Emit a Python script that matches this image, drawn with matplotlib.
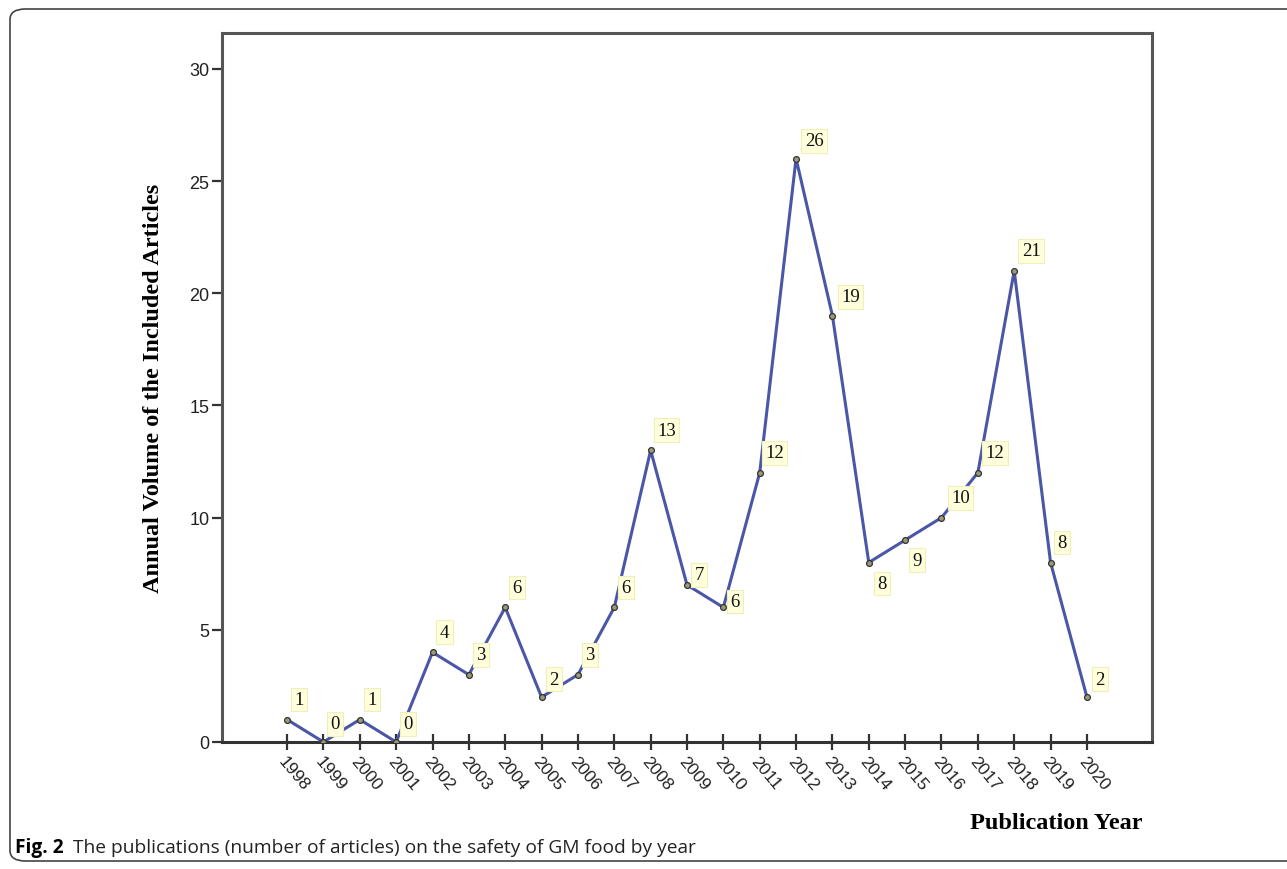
import matplotlib.pyplot as plt
from matplotlib.patches import FancyBboxPatch

years = list(range(1998, 2021))
articles = [1, 0, 1, 0, 4, 3, 6, 2, 3, 6, 13, 7, 6, 12, 26, 19, 8, 9, 10, 12, 21, 8, 2]
y_ticks = [0, 5, 10, 15, 20, 25, 30]

# label offsets in pixels from the point (most sit up and right)
label_offsets = [(12, 20), (12, 18), (12, 20), (12, 18), (12, 20), (12, 20), (12, 20),
                 (12, 18), (12, 20), (12, 20), (16, 20), (12, 10), (12, 6), (15, 20),
                 (18, 18), (18, 19), (13, -21), (12, -20), (19, 20), (17, 20), (17, 20),
                 (11, 20), (13, 18)]

fig = plt.figure(figsize=(12.87, 8.70), dpi=100)

# rounded caption frame, cut at the right edge
frame = FancyBboxPatch((10 / 1287, 8 / 870), 1.2, 852 / 870,
                       boxstyle="round,pad=0,rounding_size=0.012",
                       transform=fig.transFigure, fill=False,
                       edgecolor="#444444", linewidth=1.2, clip_on=False)
fig.patches.append(frame)

ax = fig.add_axes([222 / 1287, 1 - 743 / 870, 930 / 1287, 709 / 870])
ax.plot(years, articles, color="#4a57a6", linewidth=2.2, marker="o",
        markersize=4.2, markerfacecolor="#9a9a7a", markeredgecolor="#333333",
        markeredgewidth=0.9, zorder=3)

for yr, val, off in zip(years, articles, label_offsets):
    ax.annotate(str(val), (yr, val), xytext=off, textcoords="offset pixels",
                ha="center", va="center", fontsize=13.5, family="Liberation Serif",
                color="#111111", zorder=4, annotation_clip=False,
                bbox=dict(boxstyle="square,pad=0.18", facecolor="#ffffdc",
                          edgecolor="#f0efb8", linewidth=0.8))

ax.set_xlim(1996.21, 2021.79)
ax.set_ylim(0, 31.6)
ax.set_xticks(years)
ax.set_xticklabels([str(y) for y in years], rotation=-50, ha="left", va="top",
                   rotation_mode="anchor", family="Liberation Sans", fontsize=12.5,
                   color="#222222")
ax.set_yticks(y_ticks)
ax.set_yticklabels([str(t) for t in y_ticks], family="Liberation Sans", fontsize=13,
                   color="#222222")
ax.tick_params(axis="x", direction="inout", length=12, width=1.6, color="#333333", pad=2)
ax.tick_params(axis="y", direction="out", length=7, width=1.6, color="#333333", pad=2)
for s in ax.spines.values():
    s.set_color("#555555")
    s.set_linewidth(2.2)
ax.spines["bottom"].set_color("#333333")

ax.set_ylabel("Annual Volume of the Included Articles", family="Liberation Serif",
              fontweight="bold", fontsize=17.5, labelpad=18)

fig.text(1143 / 1287, 1 - 824 / 870, "Publication Year", family="Liberation Serif",
         fontweight="bold", fontsize=17.5, ha="right", va="center")

fig.text(15 / 1287, 1 - 848 / 870, "Fig. 2", family="Open Sans", fontweight="bold",
         fontsize=13.8, ha="left", va="center")
fig.text(73 / 1287, 1 - 848 / 870,
         "The publications (number of articles) on the safety of GM food by year",
         family="Open Sans", fontsize=13.8, ha="left", va="center", color="#222222")

fig.savefig("out.png", dpi=100)
